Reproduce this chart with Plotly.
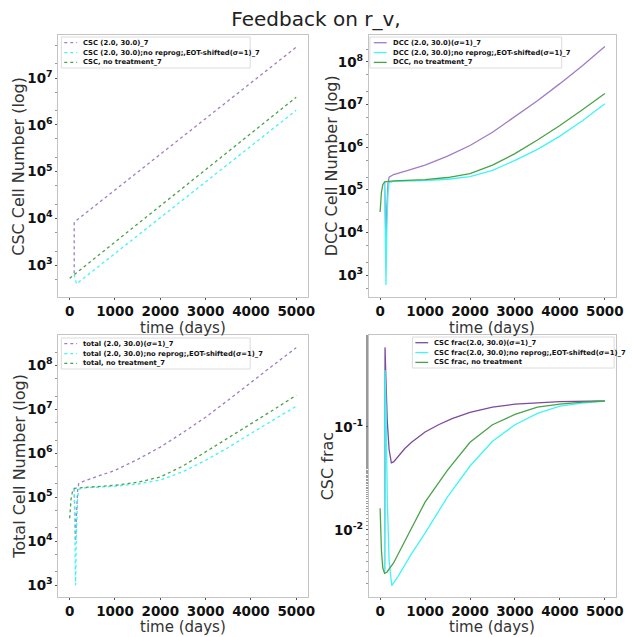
import numpy as np
import plotly.graph_objects as go

# ---------------- data (cell numbers stored as log10) ----------------
# CSC cell number
csc_treat_t = [100, 100, 5000]
csc_treat_log = [2.83, 3.92, 7.66]
csc_noreprog_t = [100, 150, 5000]
csc_noreprog_log = [2.80, 2.60, 6.31]
csc_notreat_t = [0, 5000]
csc_notreat_log = [2.72, 6.59]

# DCC cell number
dcc_treat_t = [100, 115, 130, 150, 175, 200, 300, 600, 1000, 1500, 2000, 2500, 3000, 3500, 4000, 4500, 5000]
dcc_treat_log = [5.19, 4.50, 3.80, 4.60, 5.15, 5.30, 5.36, 5.45, 5.58, 5.79, 6.04, 6.35, 6.71, 7.09, 7.49, 7.91, 8.36]
dcc_noreprog_t = [100, 115, 130, 150, 175, 200, 300, 1000, 1500, 2000, 2500, 3000, 3500, 4000, 4500, 5000]
dcc_noreprog_log = [5.19, 4.00, 2.77, 4.10, 4.90, 5.17, 5.20, 5.22, 5.25, 5.31, 5.46, 5.69, 5.95, 6.26, 6.62, 7.02]
dcc_notreat_t = [0, 30, 60, 100, 300, 1000, 1500, 2000, 2500, 3000, 3500, 4000, 4500, 5000]
dcc_notreat_log = [4.48, 4.95, 5.12, 5.19, 5.21, 5.24, 5.29, 5.38, 5.58, 5.85, 6.17, 6.51, 6.88, 7.26]

# total cell number
tot_treat_t = [100, 115, 130, 150, 175, 200, 300, 600, 1000, 1500, 2000, 2500, 3000, 3500, 4000, 4500, 5000]
tot_treat_log = [5.20, 4.60, 4.00, 4.60, 5.15, 5.31, 5.36, 5.47, 5.61, 5.86, 6.14, 6.47, 6.82, 7.21, 7.62, 8.01, 8.40]
tot_noreprog_t = [100, 115, 130, 150, 175, 200, 300, 1000, 1500, 2000, 2500, 3000, 3500, 4000, 4500, 5000]
tot_noreprog_log = [5.20, 4.10, 3.00, 4.20, 4.95, 5.18, 5.21, 5.25, 5.30, 5.39, 5.58, 5.84, 6.13, 6.45, 6.76, 7.07]
tot_notreat_t = [0, 30, 60, 100, 300, 1000, 1500, 2000, 2500, 3000, 3500, 4000, 4500, 5000]
tot_notreat_log = [4.52, 4.95, 5.12, 5.20, 5.22, 5.27, 5.34, 5.46, 5.71, 6.03, 6.34, 6.67, 6.99, 7.32]

# CSC fraction
frac_treat_t = [100, 110, 130, 160, 200, 250, 300, 400, 550, 700, 1000, 1300, 1600, 2000, 2500, 3000, 4000, 5000]
frac_treat_log = [-2.40, -0.23, -0.55, -0.95, -1.22, -1.35, -1.34, -1.29, -1.21, -1.15, -1.05, -0.98, -0.92, -0.86, -0.81, -0.78, -0.755, -0.75]
frac_noreprog_t = [100, 110, 130, 160, 200, 260, 400, 700, 1000, 1500, 2000, 2500, 3000, 3500, 4000, 4500, 5000]
frac_noreprog_log = [-2.40, -0.45, -0.80, -1.70, -2.30, -2.54, -2.45, -2.23, -2.03, -1.68, -1.38, -1.14, -0.98, -0.87, -0.80, -0.77, -0.75]
frac_notreat_t = [0, 30, 60, 100, 150, 300, 500, 1000, 1500, 2000, 2500, 3000, 3500, 4000, 4500, 5000]
frac_notreat_log = [-1.79, -2.20, -2.37, -2.42, -2.41, -2.32, -2.15, -1.73, -1.42, -1.15, -0.98, -0.88, -0.81, -0.78, -0.76, -0.75]

PURPLE = "#a07cc5"
PURPLE_DARK = "#7d4a9c"
CYAN = "#3ff5f5"
GREEN = "#4aa24a"
FONT = "DejaVu Sans"
W, H = 632, 637

fig = go.Figure()

panels = [
    # axes suffix, line dash, legend box (left, top, right, bottom px), legend line x, series
    ("", "dot", (62, 37, 253, 68), 65, [
        (csc_treat_t, csc_treat_log, "CSC (2.0, 30.0)_7", PURPLE),
        (csc_noreprog_t, csc_noreprog_log, "CSC (2.0, 30.0);no reprog;,EOT-shifted(σ=1)_7", CYAN),
        (csc_notreat_t, csc_notreat_log, "CSC, no treatment_7", GREEN),
    ]),
    ("2", "solid", (374, 37, 568, 68), 378, [
        (dcc_treat_t, dcc_treat_log, "DCC (2.0, 30.0)(σ=1)_7", PURPLE),
        (dcc_noreprog_t, dcc_noreprog_log, "DCC (2.0, 30.0);no reprog;,EOT-shifted(σ=1)_7", CYAN),
        (dcc_notreat_t, dcc_notreat_log, "DCC, no treatment_7", GREEN),
    ]),
    ("3", "dot", (62, 338, 253, 369), 65, [
        (tot_treat_t, tot_treat_log, "total (2.0, 30.0)(σ=1)_7", PURPLE),
        (tot_noreprog_t, tot_noreprog_log, "total (2.0, 30.0);no reprog;,EOT-shifted(σ=1)_7", CYAN),
        (tot_notreat_t, tot_notreat_log, "total, no treatment_7", GREEN),
    ]),
    ("4", "solid", (417, 337, 621, 368), 420, [
        (frac_treat_t, frac_treat_log, "CSC frac(2.0, 30.0)(σ=1)_7", PURPLE_DARK),
        (frac_noreprog_t, frac_noreprog_log, "CSC frac(2.0, 30.0);no reprog;,EOT-shifted(σ=1)_7", CYAN),
        (frac_notreat_t, frac_notreat_log, "CSC frac, no treatment", GREEN),
    ]),
]

def px(x):
    return x / W

def py(y):
    return 1 - y / H

shapes, annotations = [], []
for sfx, dash, box, lx, series in panels:
    for t, lv, name, color in series:
        fig.add_trace(go.Scatter(
            x=t, y=10 ** np.asarray(lv, dtype=float), mode="lines", name=name,
            line=dict(color=color, width=1.3, dash=dash),
            xaxis="x" + sfx, yaxis="y" + sfx, showlegend=False,
        ))
    # legend box drawn on top of the curves
    l, t0, r, b = box
    shapes.append(dict(type="rect", xref="paper", yref="paper", layer="above",
                       x0=px(l), x1=px(r), y0=py(b), y1=py(t0),
                       fillcolor="rgba(255,255,255,0.92)", line=dict(color="#dcdcdc", width=1)))
    row_h = (b - t0) / 3.15
    for i, (_, _, name, color) in enumerate(series):
        yy = t0 + row_h * (i + 0.58)
        shapes.append(dict(type="line", xref="paper", yref="paper", layer="above",
                           x0=px(lx), x1=px(lx + 13), y0=py(yy), y1=py(yy),
                           line=dict(color=color, width=1.3, dash=dash)))
        annotations.append(dict(text=name, xref="paper", yref="paper", x=px(lx + 17), y=py(yy),
                                xanchor="left", yanchor="middle", showarrow=False,
                                font=dict(family=FONT, size=6.8, color="#111", weight="bold")))

xl = [59 / W, 311 / W]
xr = [373 / W, 623 / W]
yt = [1 - 297 / H, 1 - 35 / H]
yb = [1 - 597 / H, 1 - 335 / H]

# axis titles
for xc, yc, txt in [(19, 166, "CSC Cell Number (log)"), (336, 166, "DCC Cell Number (log)"),
                    (19, 466, "Total Cell Number (log)"), (331, 466, "CSC frac")]:
    annotations.append(dict(text=txt, xref="paper", yref="paper", x=px(xc), y=py(yc),
                            xanchor="center", yanchor="middle", textangle=-90, showarrow=False,
                            font=dict(family=FONT, size=16, color="#333")))
for xc, yc in [(185, 328), (498, 328), (185, 627), (498, 627)]:
    annotations.append(dict(text="time (days)", xref="paper", yref="paper", x=px(xc), y=py(yc),
                            xanchor="center", yanchor="middle", showarrow=False,
                            font=dict(family=FONT, size=15, color="#333")))

frame = dict(showline=True, mirror=True, linecolor="#c4c4c4", linewidth=1,
             showgrid=False, zeroline=False, ticks="outside", ticklen=2,
             tickcolor="#555", tickfont=dict(family=FONT, size=13.5, color="#111", weight="bold"))

def xaxis(dom, anchor):
    return dict(domain=dom, anchor=anchor, range=[-250, 5250], tickangle=0,
                tickvals=[0, 1000, 2000, 3000, 4000, 5000], **frame)

def yaxis(dom, anchor, rng, tv):
    return dict(domain=dom, anchor=anchor, type="log", range=rng,
                tickvals=[10.0 ** k for k in tv], ticktext=[f"10<sup>{k}</sup>" for k in tv],
                minor=dict(ticks="outside", ticklen=2, tickcolor="#999", showgrid=False),
                **frame)

fig.update_layout(
    width=W, height=H,
    margin=dict(l=0, r=0, t=0, b=0),
    paper_bgcolor="white", plot_bgcolor="white",
    showlegend=False,
    title=dict(text="Feedback on r_v,", x=0.5, xanchor="center", y=py(19), yanchor="middle",
               font=dict(family=FONT, size=20, color="#222")),
    xaxis=xaxis(xl, "y"),
    yaxis=yaxis(yt, "x", [2.32, 7.92], [3, 4, 5, 6, 7]),
    xaxis2=xaxis(xr, "y2"),
    yaxis2=yaxis(yt, "x2", [2.49, 8.63], [3, 4, 5, 6, 7, 8]),
    xaxis3=xaxis(xl, "y3"),
    yaxis3=yaxis(yb, "x3", [2.73, 8.69], [3, 4, 5, 6, 7, 8]),
    xaxis4=xaxis(xr, "y4"),
    yaxis4=yaxis(yb, "x4", [-2.65, -0.11], [-2, -1]),
    shapes=shapes,
    annotations=annotations,
)

fig.write_html("out.html")
